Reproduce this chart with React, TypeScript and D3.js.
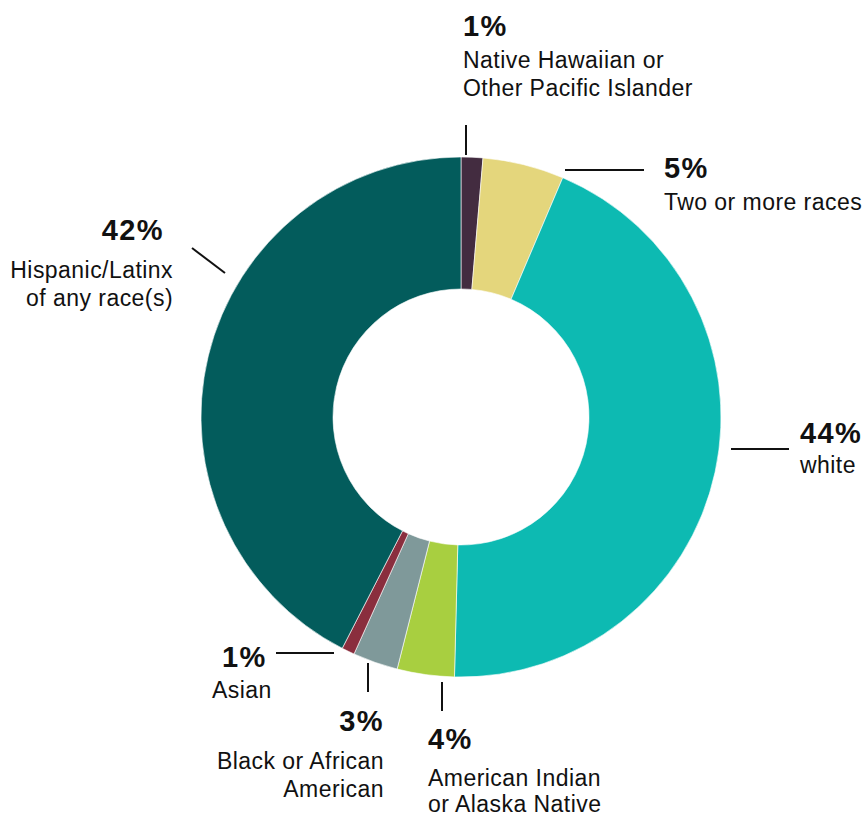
import React from "react";
import * as d3 from "d3";

const categories = [
  "Native Hawaiian or Other Pacific Islander",
  "Two or more races",
  "white",
  "American Indian or Alaska Native",
  "Black or African American",
  "Asian",
  "Hispanic/Latinx of any race(s)",
];
const values = [1.35, 5.05, 44.0, 3.55, 2.8, 0.8, 42.45];
const pctLabels = ["1%", "5%", "44%", "4%", "3%", "1%", "42%"];
const nameLines = [
  ["Native Hawaiian or", "Other Pacific Islander"],
  ["Two or more races"],
  ["white"],
  ["American Indian", "or Alaska Native"],
  ["Black or African", "American"],
  ["Asian"],
  ["Hispanic/Latinx", "of any race(s)"],
];
const colors = ["#432c40", "#e4d67c", "#0dbab2", "#a8cf40", "#7f999a", "#8a2e3e", "#035c5c"];

// label layout (positions of text blocks and leader lines)
const layout = [
  { x: 463, pctY: 36, lineY: 68, gap: 28, anchor: "start", leader: [466, 125, 466, 155] },
  { x: 664, pctY: 178, lineY: 210, gap: 28, anchor: "start", leader: [565, 170, 644, 170] },
  { x: 800, pctY: 443, lineY: 473, gap: 28, anchor: "start", leader: [731, 449, 789, 449] },
  { x: 428, pctY: 749, lineY: 786, gap: 26, anchor: "start", leader: [442, 682, 442, 711] },
  { x: 384, pctY: 731, lineY: 769, gap: 28, anchor: "end", leader: [368, 663, 368, 692] },
  { x: 212, pctY: 667, lineY: 698, gap: 28, anchor: "start", pctX: 222, leader: [276, 653, 334, 653] },
  { x: 173, pctY: 240, lineY: 278, gap: 28, anchor: "end", pctX: 164, leader: [192, 248, 225, 273] },
];

const W = 868;
const H = 816;
const cx = 461;
const cy = 417;
const rOuter = 260;
const rInner = 128;

export default function App() {
  const pie = d3.pie<number>().sort(null).value((d) => d);
  const arcs = pie(values);
  const arc = d3.arc<d3.PieArcDatum<number>>().innerRadius(rInner).outerRadius(rOuter);
  const font = "'Liberation Sans', Arial, Helvetica, sans-serif";

  return (
    <svg
      width={W}
      height={H}
      style={{ position: "absolute", left: 0, top: 0, background: "#fff" }}
      fontFamily={font}
    >
      <g transform={`translate(${cx},${cy})`}>
        {arcs.map((a, i) => (
          <path key={categories[i]} d={arc(a) || ""} fill={colors[i]} stroke="#ffffff" strokeWidth={0.6} />
        ))}
      </g>
      {layout.map((l, i) => (
        <g key={"lab" + i}>
          <line x1={l.leader[0]} y1={l.leader[1]} x2={l.leader[2]} y2={l.leader[3]} stroke="#111" strokeWidth={2} />
          <text
            x={l.pctX ?? l.x}
            y={l.pctY}
            textAnchor={l.anchor as any}
            fontSize={29}
            fontWeight="bold"
            letterSpacing={1.4}
            fill="#111"
          >
            {pctLabels[i]}
          </text>
          {nameLines[i].map((t, j) => (
            <text
              key={j}
              x={l.x}
              y={l.lineY + j * l.gap}
              textAnchor={l.anchor as any}
              fontSize={23}
              letterSpacing={0.45}
              fill="#111"
            >
              {t}
            </text>
          ))}
        </g>
      ))}
    </svg>
  );
}
